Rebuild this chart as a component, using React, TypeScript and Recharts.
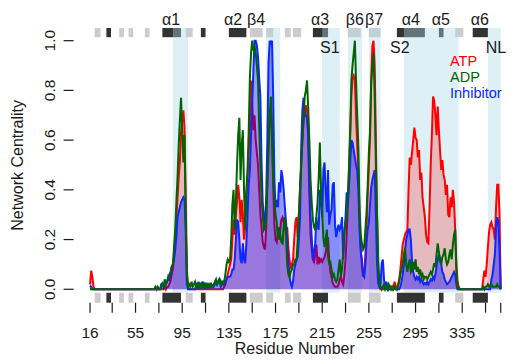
import React from 'react';
import { ComposedChart, Area, Line, XAxis, YAxis, ReferenceArea, ReferenceLine, Legend, Label } from 'recharts';

// network centrality per residue, starting at residue 16
const firstResidue = 16;

const atp = [
  0.02, 0.075, 0.05, 0.01, 0, 0, 0, 0, 0, 0,
  0, 0, 0, 0, 0, 0, 0, 0, 0, 0,
  0, 0, 0, 0, 0, 0, 0, 0, 0, 0,
  0, 0, 0, 0, 0, 0, 0, 0, 0, 0,
  0, 0, 0, 0, 0, 0, 0, 0, 0, 0,
  0, 0, 0, 0, 0, 0, 0, 0, 0, 0,
  0, 0, 0, 0, 0.01, 0, 0.01, 0.01, 0.02, 0.03,
  0.06, 0.08, 0.13, 0.2, 0.28, 0.37, 0.45, 0.51, 0.63, 0.68,
  0.72, 0.65, 0.37, 0.08, 0.01, 0, 0, 0, 0, 0,
  0, 0, 0, 0, 0, 0, 0, 0, 0, 0,
  0, 0, 0, 0, 0, 0, 0, 0, 0, 0,
  0, 0, 0, 0, 0, 0.01, 0.02, 0.04, 0.06, 0.08,
  0.1, 0.12, 0.2, 0.28, 0.22, 0.3, 0.35, 0.42, 0.37, 0.27,
  0.36, 0.3, 0.2, 0.25, 0.35, 0.45, 0.55, 0.64, 0.84, 0.75,
  0.64, 0.7, 0.6, 0.55, 0.5, 0.4, 0.3, 0.25, 0.19, 0.17,
  0.16, 0.25, 0.45, 0.6, 0.7, 0.72, 0.6, 0.42, 0.26, 0.2,
  0.19, 0.22, 0.2, 0.24, 0.28, 0.29, 0.27, 0.25, 0.24, 0.25,
  0.17, 0.12, 0.08, 0.1, 0.12, 0.2, 0.27, 0.29, 0.21, 0.3,
  0.41, 0.5, 0.6, 0.68, 0.7, 0.74, 0.72, 0.6, 0.38, 0.22,
  0.16, 0.12, 0.11, 0.14, 0.18, 0.1, 0.13, 0.11, 0.12, 0.11,
  0.12, 0.13, 0.15, 0.185, 0.21, 0.12, 0.07, 0.05, 0.025, 0.015,
  0.01, 0.01, 0.01, 0.02, 0.04, 0.05, 0.03, 0.02, 0.06, 0.12,
  0.22, 0.35, 0.48, 0.62, 0.78, 0.85, 0.86, 0.84, 0.7, 0.58,
  0.48, 0.32, 0.17, 0.1, 0.05, 0.07, 0.14, 0.24, 0.38, 0.5,
  0.61, 0.85, 0.98, 1.0, 0.9, 0.6, 0.3, 0.1, 0.02, 0,
  0, 0, 0, 0, 0, 0, 0, 0, 0.01, 0,
  0.01, 0.03, 0.01, 0, 0.02, 0.04, 0.08, 0.13, 0.18, 0.2,
  0.22, 0.23, 0.24, 0.4, 0.53, 0.5, 0.55, 0.6, 0.65, 0.61,
  0.6, 0.53, 0.56, 0.44, 0.47, 0.37, 0.33, 0.29, 0.22, 0.19,
  0.185, 0.33, 0.5, 0.62, 0.775, 0.76, 0.7, 0.62, 0.735, 0.64,
  0.56, 0.48, 0.52, 0.46, 0.44, 0.38, 0.42, 0.3, 0.29, 0.37,
  0.33, 0.4, 0.35, 0.24, 0.105, 0.03, 0.01, 0, 0, 0,
  0, 0, 0, 0, 0, 0, 0, 0, 0, 0,
  0, 0, 0, 0, 0, 0, 0, 0.04, 0.075, 0.05,
  0.1, 0.17, 0.23, 0.26, 0.27, 0.25, 0.24, 0.2, 0.33, 0.42,
  0.42, 0.3, 0,
];

const adp = [
  0, 0, 0, 0, 0, 0, 0, 0, 0, 0,
  0, 0, 0, 0, 0, 0, 0, 0, 0, 0,
  0, 0, 0, 0, 0, 0, 0, 0, 0, 0,
  0, 0, 0, 0, 0, 0, 0, 0, 0, 0,
  0, 0, 0, 0, 0, 0, 0, 0, 0, 0,
  0, 0, 0, 0, 0, 0, 0.01, 0, 0.01, 0,
  0, 0.01, 0.02, 0.01, 0.04, 0.02, 0.03, 0.04, 0.06, 0.07,
  0.09, 0.1, 0.17, 0.24, 0.35, 0.45, 0.58, 0.68, 0.77, 0.64,
  0.51, 0.62, 0.29, 0.06, 0.01, 0.02, 0.01, 0.03, 0.01, 0.02,
  0.03, 0.01, 0.02, 0.01, 0.02, 0.01, 0.03, 0.01, 0.02, 0.01,
  0.02, 0.01, 0.02, 0.01, 0.02, 0.01, 0.02, 0.03, 0.04, 0.02,
  0.03, 0.04, 0.02, 0.03, 0.02, 0.03, 0.06, 0.1, 0.12, 0.11,
  0.12, 0.2, 0.34, 0.4, 0.24, 0.35, 0.5, 0.62, 0.69, 0.44,
  0.58, 0.64, 0.4, 0.24, 0.4, 0.48, 0.64, 0.85, 0.95, 1.0,
  0.96, 0.98, 0.95, 0.9, 0.84, 0.65, 0.5, 0.37, 0.3, 0.24,
  0.25, 0.29, 0.42, 0.55, 0.7, 0.775, 0.64, 0.45, 0.35, 0.3,
  0.27, 0.2, 0.25, 0.22, 0.19, 0.185, 0.25, 0.29, 0.22, 0.1,
  0.06, 0.05, 0.07, 0.08, 0.1, 0.1, 0.12, 0.12, 0.2, 0.3,
  0.4, 0.5, 0.6, 0.68, 0.775, 0.8, 0.84, 0.73, 0.6, 0.44,
  0.35, 0.28, 0.25, 0.24, 0.29, 0.35, 0.45, 0.59, 0.4, 0.3,
  0.21, 0.17, 0.2, 0.24, 0.13, 0.105, 0.11, 0.08, 0.05, 0.06,
  0.04, 0.03, 0.04, 0.08, 0.12, 0.05, 0.08, 0.15, 0.24, 0.27,
  0.29, 0.37, 0.5, 0.64, 0.84, 0.9, 0.95, 1.0, 0.84, 0.7,
  0.57, 0.32, 0.22, 0.185, 0.16, 0.17, 0.24, 0.31, 0.42, 0.55,
  0.64, 0.83, 0.9, 0.95, 0.775, 0.5, 0.3, 0.105, 0.025, 0.01,
  0, 0.01, 0.02, 0, 0.01, 0, 0.02, 0.01, 0, 0.01,
  0, 0.01, 0, 0, 0.01, 0.03, 0.06, 0.08, 0.105, 0.14,
  0.165, 0.1, 0.07, 0.1, 0.12, 0.07, 0.08, 0.11, 0.08, 0.12,
  0.07, 0.09, 0.06, 0.08, 0.05, 0.06, 0.04, 0.05, 0.05, 0.04,
  0.05, 0.06, 0.07, 0.06, 0.08, 0.105, 0.09, 0.14, 0.185, 0.15,
  0.12, 0.1, 0.13, 0.14, 0.165, 0.12, 0.1, 0.11, 0.14, 0.16,
  0.12, 0.18, 0.22, 0.24, 0.07, 0.01, 0, 0, 0, 0,
  0, 0, 0, 0, 0, 0, 0, 0, 0, 0,
  0, 0, 0, 0, 0, 0, 0, 0.01, 0, 0.01,
  0.01, 0.02, 0.01, 0.015, 0.02, 0.01, 0.01, 0.01, 0.01, 0.02,
  0.01, 0.01, 0,
];

const inhibitor = [
  0.015, 0.01, 0, 0, 0, 0, 0, 0, 0, 0,
  0, 0, 0, 0, 0, 0, 0, 0, 0, 0,
  0, 0, 0, 0, 0, 0, 0, 0, 0, 0,
  0, 0, 0, 0, 0, 0, 0, 0, 0, 0,
  0, 0, 0, 0, 0, 0, 0, 0, 0, 0,
  0, 0, 0, 0, 0, 0, 0, 0, 0, 0,
  0, 0.02, 0.025, 0.01, 0.015, 0.02, 0.03, 0.05, 0.04, 0.06,
  0.09, 0.1, 0.12, 0.16, 0.21, 0.29, 0.31, 0.33, 0.35, 0.36,
  0.37, 0.36, 0.24, 0.02, 0, 0, 0, 0, 0, 0,
  0, 0.02, 0.01, 0.03, 0.01, 0.02, 0.01, 0.03, 0.01, 0.02,
  0.01, 0.02, 0.01, 0.02, 0.01, 0.015, 0.01, 0.02, 0.04, 0.02,
  0.03, 0.044, 0.01, 0.02, 0.03, 0.02, 0.03, 0.04, 0.05, 0.05,
  0.05, 0.06, 0.08, 0.08, 0.12, 0.2, 0.28, 0.27, 0.2, 0.12,
  0.105, 0.185, 0.12, 0.105, 0.185, 0.3, 0.42, 0.48, 0.62, 0.75,
  0.88, 1.0, 1.0, 0.98, 0.935, 0.85, 0.775, 0.51, 0.35, 0.29,
  0.25, 0.37, 0.6, 0.91, 1.0, 0.99, 1.0, 0.775, 0.44, 0.33,
  0.36, 0.33, 0.43, 0.39, 0.48, 0.45, 0.4, 0.33, 0.27, 0.2,
  0.105, 0.05, 0.025, 0.01, 0.03, 0.078, 0.1, 0.12, 0.13, 0.2,
  0.29, 0.57, 0.72, 0.77, 0.7, 0.7, 0.69, 0.63, 0.45, 0.3,
  0.21, 0.12, 0.15, 0.185, 0.29, 0.25, 0.24, 0.4, 0.36, 0.29,
  0.48, 0.51, 0.4, 0.31, 0.48, 0.26, 0.3, 0.32, 0.42, 0.43,
  0.26, 0.21, 0.24, 0.26, 0.24, 0.25, 0.29, 0.12, 0.22, 0.29,
  0.39, 0.34, 0.42, 0.51, 0.6, 0.59, 0.56, 0.53, 0.5, 0.48,
  0.4, 0.24, 0.15, 0.12, 0.06, 0.05, 0.1, 0.185, 0.24, 0.27,
  0.34, 0.41, 0.44, 0.46, 0.48, 0.3, 0.105, 0.025, 0.01, 0.02,
  0.105, 0.12, 0.04, 0.01, 0.03, 0.01, 0, 0.01, 0, 0,
  0, 0.01, 0, 0, 0, 0, 0.01, 0.03, 0.06, 0.1,
  0.16, 0.2, 0.22, 0.24, 0.24, 0.2, 0.105, 0.07, 0.05, 0.04,
  0.05, 0.04, 0.05, 0.03, 0.04, 0.03, 0.02, 0.025, 0.02, 0.03,
  0.02, 0.03, 0.04, 0.035, 0.05, 0.04, 0.06, 0.09, 0.12, 0.14,
  0.12, 0.1, 0.07, 0.06, 0.04, 0.03, 0.02, 0.025, 0.03, 0.04,
  0.05, 0.06, 0.07, 0.06, 0.02, 0, 0, 0, 0, 0,
  0, 0, 0, 0, 0, 0, 0, 0, 0, 0,
  0, 0, 0, 0, 0, 0, 0, 0, 0, 0,
  0, 0, 0, 0, 0.04, 0.06, 0.1, 0.14, 0.25, 0.29,
  0.27, 0.15, 0,
];

const residues = atp.map((_, i) => firstResidue + i);
const seriesNames = ['ATP', 'ADP', 'Inhibitor'];

const xTicks = [16, 35, 55, 75, 95, 115, 135, 155, 175, 195, 215, 235, 255, 275, 295, 315, 335, 355, 368];
const xTickLabels = ['16', '', '55', '', '95', '', '135', '', '175', '', '215', '', '255', '', '295', '', '335', '', ''];
const yTicks = [0, 0.2, 0.4, 0.6, 0.8, 1.0];

// secondary structure (residue ranges)
const helices = [[30, 34], [78, 94], [111, 115], [135, 150], [207, 220], [279, 303], [315, 319], [344, 357]];
const strands = [[20, 25], [41, 45], [49, 53], [63, 67], [98, 104], [153, 164], [167, 173], [183, 188], [190, 197], [237, 248], [255, 265], [329, 336]];
// highlighted regions
const bands = [[87, 100], [167, 179], [215, 230], [237, 249], [255, 265], [285, 332], [357, 368]];

const topLabels = ['α1', 'α2', 'β4', 'α3', 'β6', 'β7', 'α4', 'α5', 'α6'];
const topLabelAt = [85.4, 138.6, 158.3, 213.1, 243, 259.4, 291, 316.7, 350.1];
const siteLabels = ['S1', 'S2', 'NL'];
const siteLabelAt = [221.5, 281.5, 364];

const xMin = 1.92;
const xMax = 381.1;
const yMin = -0.054;
const yMax = 1.051;
const topBarLow = 1.014;
const bottomBarHigh = -0.014;

const font = '"Liberation Sans", Arial, Helvetica, sans-serif';
const ink = '#1a1a1a';

const data = residues.map((r, i) => ({ residue: r, atp: atp[i], adp: adp[i], inhibitor: inhibitor[i] }));

const XTick = (props: any) => {
  const { x, y, payload } = props;
  const label = xTickLabels[xTicks.indexOf(payload.value)];
  return (
    <text x={x} y={y + 23.5} textAnchor="middle" fontSize={15.5} fill={ink} fontFamily={font}>
      {label}
    </text>
  );
};

const YTick = (props: any) => {
  const { x, y, payload } = props;
  const bx = x - 7;
  return (
    <text x={bx} y={y} transform={`rotate(-90 ${bx} ${y})`} textAnchor="middle" fontSize={15.5} fill={ink} fontFamily={font}>
      {payload.value.toFixed(1)}
    </text>
  );
};

const LegendBox = (props: any) => {
  const items = seriesNames.map((n) => (props.payload || []).find((p: any) => p.value === n)).filter(Boolean);
  return (
    <div style={{ fontFamily: font, fontSize: 14.5, lineHeight: '16px' }}>
      {items.map((p: any) => (
        <div key={p.value} style={{ color: p.color, height: 16 }}>{p.value}</div>
      ))}
    </div>
  );
};

export default function App() {
  return (
    <div style={{ margin: -8, width: 516, height: 364, overflow: 'hidden', background: '#fff' }}>
      <ComposedChart width={516} height={364} data={data} margin={{ top: 28, right: 0, bottom: 0, left: 0 }}>
        <XAxis
          dataKey="residue"
          type="number"
          domain={[xMin, xMax]}
          allowDataOverflow
          ticks={xTicks}
          interval={0}
          tick={<XTick />}
          tickSize={10}
          tickLine={{ stroke: ink, strokeWidth: 1.2 }}
          axisLine={false}
          height={61.3}
        >
          <Label
            content={({ viewBox }: any) => (
              <text x={viewBox.x + viewBox.width / 2} y={viewBox.y + 51.5} textAnchor="middle" fontSize={16} fill={ink} fontFamily={font}>
                Residue Number
              </text>
            )}
          />
        </XAxis>
        <YAxis
          type="number"
          domain={[yMin, yMax]}
          allowDataOverflow
          ticks={yTicks}
          interval={0}
          tick={<YTick />}
          tickSize={10}
          tickLine={{ stroke: ink, strokeWidth: 1.2 }}
          axisLine={false}
          width={73.6}
        >
          <Label
            content={({ viewBox }: any) => {
              const cy = viewBox.y + viewBox.height / 2;
              return (
                <text x={23.5} y={cy} transform={`rotate(-90 23.5 ${cy})`} textAnchor="middle" fontSize={16} fill={ink} fontFamily={font}>
                  Network Centrality
                </text>
              );
            }}
          />
        </YAxis>

        {strands.map(([a, b]) => (
          <ReferenceArea key={'st' + a} x1={a} x2={b} y1={topBarLow} y2={yMax} fill="#cccccc" fillOpacity={1} stroke="none" />
        ))}
        {helices.map(([a, b]) => (
          <ReferenceArea key={'ht' + a} x1={a} x2={b} y1={topBarLow} y2={yMax} fill="#333333" fillOpacity={1} stroke="none" />
        ))}
        {bands.map(([a, b]) => (
          <ReferenceArea key={'bd' + a} x1={a} x2={b} y1={bottomBarHigh} y2={yMax} fill="#add8e6" fillOpacity={0.4} stroke="none" />
        ))}
        {strands.map(([a, b]) => (
          <ReferenceArea key={'sb' + a} x1={a} x2={b} y1={yMin} y2={bottomBarHigh} fill="#cccccc" fillOpacity={1} stroke="none" />
        ))}
        {helices.map(([a, b]) => (
          <ReferenceArea key={'hb' + a} x1={a} x2={b} y1={yMin} y2={bottomBarHigh} fill="#333333" fillOpacity={1} stroke="none" />
        ))}

        <Area type="linear" dataKey="atp" name="ATP" stroke="#ff0000" strokeWidth={2} fill="#ff0000" fillOpacity={0.22} dot={false} activeDot={false} isAnimationActive={false} />
        <Line type="linear" dataKey="adp" name="ADP" stroke="#006400" strokeWidth={2} dot={false} activeDot={false} isAnimationActive={false} />
        <Area type="linear" dataKey="inhibitor" name="Inhibitor" stroke="#0a28ff" strokeWidth={2} fill="#0000ff" fillOpacity={0.4} dot={false} activeDot={false} isAnimationActive={false} />

        {topLabels.map((t, i) => (
          <ReferenceLine key={t} x={topLabelAt[i]} stroke="none" label={{ value: t, position: 'top', offset: 3, fontSize: 16, fill: ink, fontFamily: font }} />
        ))}
        {siteLabels.map((t, i) => (
          <ReferenceLine key={t} x={siteLabelAt[i]} stroke="none" label={{ value: t, position: 'insideTop', offset: 13.3, fontSize: 16, fill: ink, fontFamily: font }} />
        ))}

        <ReferenceArea fill="none" stroke={ink} strokeWidth={1.4} ifOverflow="visible" />

        <Legend
          layout="vertical"
          align="center"
          verticalAlign="middle"
          content={<LegendBox />}
          wrapperStyle={{ left: 450, top: 52.5, width: 70 }}
        />
      </ComposedChart>
    </div>
  );
}
